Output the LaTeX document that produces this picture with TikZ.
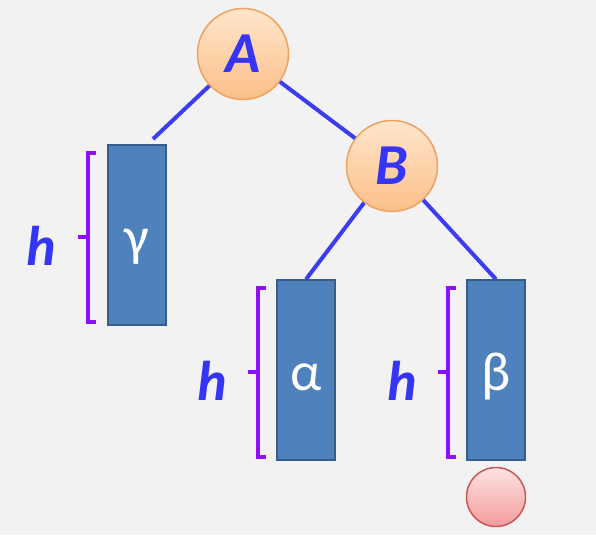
\documentclass[tikz,border=0pt]{standalone}
\usepackage{fontspec}
\setmainfont{Carlito}
\definecolor{bgc}{HTML}{F2F2F2}
\definecolor{edgeblue}{HTML}{3C3CF0}
\definecolor{txtblue}{HTML}{3535F5}
\definecolor{boxfill}{HTML}{4F81BD}
\definecolor{boxline}{HTML}{385D8A}
\definecolor{brk}{HTML}{8C10FF}
\definecolor{orTop}{HTML}{FFE6CC}
\definecolor{orBot}{HTML}{FBBF88}
\definecolor{orLine}{HTML}{EDA262}
\definecolor{rdTop}{HTML}{FFE2E2}
\definecolor{rdBot}{HTML}{F39C9C}
\definecolor{rdLine}{HTML}{C85858}
\tikzset{
  tnode/.style={circle, draw=orLine, line width=1.5pt, top color=orTop, bottom color=orBot,
    minimum size=91pt, inner sep=0pt, text=txtblue, font=\fontsize{58}{58}\selectfont\bfseries\itshape},
  subtree/.style={rectangle, draw=boxline, line width=1.5pt, fill=boxfill,
    minimum width=58pt, minimum height=180pt, inner sep=0pt, text=white,
    text height=40pt, text depth=0pt,
    font=\fontsize{55}{55}\selectfont},
  leafball/.style={circle, draw=rdLine, line width=1.5pt, top color=rdTop, bottom color=rdBot,
    minimum size=59pt, inner sep=0pt},
  edge/.style={draw=edgeblue, line width=4pt},
  brace/.style={draw=brk, line width=3.5pt},
  hlabel/.style={text=txtblue, font=\fontsize{56}{56}\selectfont\bfseries\itshape, inner sep=0pt, anchor=base}
}
\begin{document}
\begin{tikzpicture}[x=1pt,y=-1pt]
\fill[bgc] (0,0) rectangle (596,535);
\useasboundingbox (0,0) rectangle (596,535);
% nodes
\node[tnode] (A) at (243,54) {A};
\node[tnode] (B) at (392,166) {B};
\node[subtree] (g) at (137,235) {γ};
\node[subtree] (a) at (306,370) {α};
\node[subtree] (b) at (496,370) {β};
\node[leafball] (r) at (496,497) {};
\coordinate (gtop) at (153,139);
% edges
\draw[edge] (A) -- (gtop);
\draw[edge] (A) -- (B);
\draw[edge] (B) -- (a.north);
\draw[edge] (B) -- (b.north);
% braces
\draw[brace] (96,153) -- (88,153) -- (88,322) -- (96,322);
\draw[brace] (88,237) -- (78,237);
\draw[brace] (266,288) -- (258,288) -- (258,457) -- (266,457);
\draw[brace] (258,372) -- (248,372);
\draw[brace] (456,288) -- (448,288) -- (448,457) -- (456,457);
\draw[brace] (448,372) -- (438,372);
% h labels
\node[hlabel] (h1) at (41,265) {h};
\node[hlabel] (h2) at (212,400) {h};
\node[hlabel] (h3) at (402,400) {h};
\end{tikzpicture}
\end{document}
